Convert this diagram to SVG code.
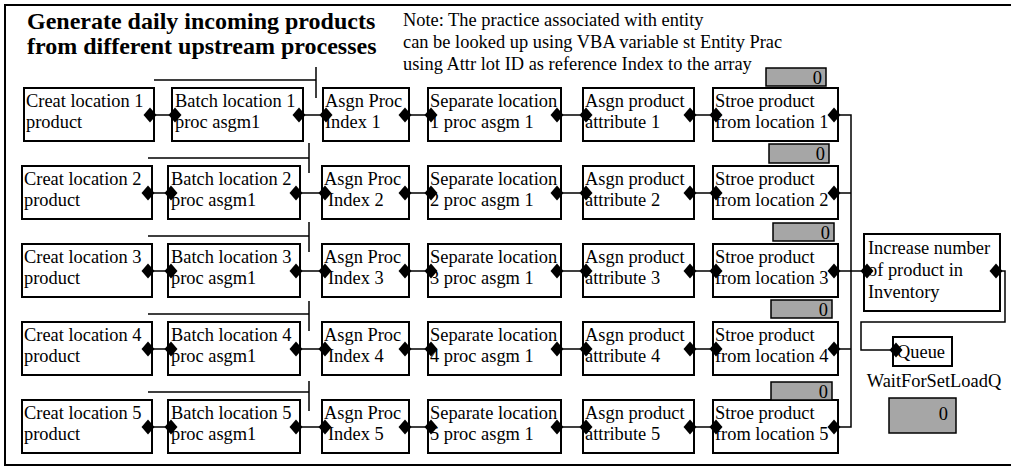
<svg xmlns="http://www.w3.org/2000/svg" width="1011" height="469" viewBox="0 0 1011 469">
<style>
text{font-family:"Liberation Serif","Times New Roman",serif;font-size:18.4px;fill:#000}
.title{font-weight:bold;font-size:24px}
.box{fill:#fff;stroke:#000;stroke-width:2}
.cnt{fill:#a6a6a6;stroke:#000;stroke-width:1.5}
.ln{fill:none;stroke:#000;stroke-width:1.5}
.num{text-anchor:end}
</style>
<defs>
<path id="dm" d="M0,-7.5 L6.5,0 L0,7.5 L-6.5,0 Z" fill="#000"/>
</defs>
<rect x="5" y="5" width="1010" height="460" fill="#fff" stroke="#000" stroke-width="2"/>
<g id="title">
<text class="title" x="27" y="29">Generate daily incoming products</text>
<text class="title" x="27" y="54">from different upstream processes</text>
</g>
<g id="note">
<text x="403" y="26">Note: The practice associated with entity</text>
<text x="403" y="48">can be looked up using VBA variable st Entity Prac</text>
<text x="403" y="70">using Attr lot ID as reference Index to the array</text>
</g>
<g id="brackets" class="ln">
<path d="M154,80 H316 M316,67 V98"/>
<path d="M148,158 H309 M309,143 V173"/>
<path d="M148,236 H309 M309,222 V252"/>
<path d="M148,314 H309 M309,301 V331"/>
<path d="M148,392 H309 M309,381 V411"/>
</g>
<g id="connectors" class="ln">
<path d="M150,115 H175 M299,115 H326 M405,115 H431 M557,115 H586 M690,115 H716"/>
<path d="M148,193 H171 M296,193 H325 M405,193 H431 M557,193 H586 M690,193 H716"/>
<path d="M148,271 H171 M296,271 H325 M405,271 H431 M557,271 H586 M690,271 H716"/>
<path d="M148,349 H171 M296,349 H325 M405,349 H431 M557,349 H586 M690,349 H716"/>
<path d="M148,427 H171 M296,427 H325 M405,427 H431 M557,427 H586 M690,427 H716"/>
<path d="M834,115 H851 V427 H834 M834,193 H851 M834,271 H867 M834,349 H851"/>
<path d="M996,271 H1005 V322 H861 V350 H896"/>
</g>
<g id="creat1"><rect class="box" x="24" y="88" width="130" height="53"/><text x="26" y="107">Creat location 1</text><text x="26" y="128">product</text></g>
<g id="batch1"><rect class="box" x="172" y="88" width="131" height="53"/><text x="175" y="107">Batch location 1</text><text x="175" y="128">proc asgm1</text></g>
<g id="asgn1"><rect class="box" x="323" y="88" width="86" height="53"/><text x="325" y="107">Asgn Proc</text><text x="325" y="128">Index 1</text></g>
<g id="sep1"><rect class="box" x="428" y="88" width="133" height="53"/><text x="430" y="107">Separate location</text><text x="430" y="128">1 proc asgm 1</text></g>
<g id="attr1"><rect class="box" x="583" y="88" width="111" height="53"/><text x="585" y="107">Asgn product</text><text x="585" y="128">attribute 1</text></g>
<g id="store1"><rect class="box" x="713" y="88" width="125" height="53"/><text x="715" y="107">Stroe product</text><text x="715" y="128">from location 1</text><rect class="cnt" x="766" y="68" width="60" height="18"/><text class="num" x="822" y="84">0</text></g>

<g id="creat2"><rect class="box" x="22" y="166" width="130" height="53"/><text x="24" y="185">Creat location 2</text><text x="24" y="206">product</text></g>
<g id="batch2"><rect class="box" x="168" y="166" width="132" height="53"/><text x="171" y="185">Batch location 2</text><text x="171" y="206">proc asgm1</text></g>
<g id="asgn2"><rect class="box" x="322" y="166" width="87" height="53"/><text x="324" y="185">Asgn Proc</text><text x="328" y="206">Index 2</text></g>
<g id="sep2"><rect class="box" x="428" y="166" width="133" height="53"/><text x="430" y="185">Separate location</text><text x="430" y="206">2 proc asgm 1</text></g>
<g id="attr2"><rect class="box" x="583" y="166" width="111" height="53"/><text x="585" y="185">Asgn product</text><text x="585" y="206">attribute 2</text></g>
<g id="store2"><rect class="box" x="713" y="166" width="125" height="53"/><text x="715" y="185">Stroe product</text><text x="715" y="206">from location 2</text><rect class="cnt" x="769" y="144" width="60" height="19"/><text class="num" x="825" y="160">0</text></g>

<g id="creat3"><rect class="box" x="22" y="244" width="130" height="53"/><text x="24" y="263">Creat location 3</text><text x="24" y="284">product</text></g>
<g id="batch3"><rect class="box" x="168" y="244" width="132" height="53"/><text x="171" y="263">Batch location 3</text><text x="171" y="284">proc asgm1</text></g>
<g id="asgn3"><rect class="box" x="322" y="244" width="87" height="53"/><text x="324" y="263">Asgn Proc</text><text x="328" y="284">Index 3</text></g>
<g id="sep3"><rect class="box" x="428" y="244" width="133" height="53"/><text x="430" y="263">Separate location</text><text x="430" y="284">3 proc asgm 1</text></g>
<g id="attr3"><rect class="box" x="583" y="244" width="111" height="53"/><text x="585" y="263">Asgn product</text><text x="585" y="284">attribute 3</text></g>
<g id="store3"><rect class="box" x="713" y="244" width="125" height="53"/><text x="715" y="263">Stroe product</text><text x="715" y="284">from location 3</text><rect class="cnt" x="773" y="223" width="61" height="18"/><text class="num" x="830" y="239">0</text></g>

<g id="creat4"><rect class="box" x="22" y="322" width="130" height="53"/><text x="24" y="341">Creat location 4</text><text x="24" y="362">product</text></g>
<g id="batch4"><rect class="box" x="168" y="322" width="132" height="53"/><text x="171" y="341">Batch location 4</text><text x="171" y="362">proc asgm1</text></g>
<g id="asgn4"><rect class="box" x="322" y="322" width="87" height="53"/><text x="324" y="341">Asgn Proc</text><text x="328" y="362">Index 4</text></g>
<g id="sep4"><rect class="box" x="428" y="322" width="133" height="53"/><text x="430" y="341">Separate location</text><text x="430" y="362">4 proc asgm 1</text></g>
<g id="attr4"><rect class="box" x="583" y="322" width="111" height="53"/><text x="585" y="341">Asgn product</text><text x="585" y="362">attribute 4</text></g>
<g id="store4"><rect class="box" x="713" y="322" width="125" height="53"/><text x="715" y="341">Stroe product</text><text x="715" y="362">from location 4</text><rect class="cnt" x="771" y="300" width="61" height="18"/><text class="num" x="828" y="316">0</text></g>

<g id="creat5"><rect class="box" x="22" y="400" width="130" height="53"/><text x="24" y="419">Creat location 5</text><text x="24" y="440">product</text></g>
<g id="batch5"><rect class="box" x="168" y="400" width="132" height="53"/><text x="171" y="419">Batch location 5</text><text x="171" y="440">proc asgm1</text></g>
<g id="asgn5"><rect class="box" x="322" y="400" width="87" height="53"/><text x="324" y="419">Asgn Proc</text><text x="328" y="440">Index 5</text></g>
<g id="sep5"><rect class="box" x="428" y="400" width="133" height="53"/><text x="430" y="419">Separate location</text><text x="430" y="440">5 proc asgm 1</text></g>
<g id="attr5"><rect class="box" x="583" y="400" width="111" height="53"/><text x="585" y="419">Asgn product</text><text x="585" y="440">attribute 5</text></g>
<g id="store5"><rect class="box" x="713" y="400" width="125" height="53"/><text x="715" y="419">Stroe product</text><text x="715" y="440">from location 5</text><rect class="cnt" x="771" y="382" width="61" height="18"/><text class="num" x="828" y="398">0</text></g>

<g id="increase"><rect class="box" x="864" y="234" width="136" height="77"/><text x="868" y="254">Increase number</text><text x="868" y="276">of product in</text><text x="868" y="298">Inventory</text></g>
<g id="queue"><rect class="box" x="893" y="337" width="59" height="29"/><text x="897" y="358">Queue</text><text x="934" y="387" text-anchor="middle">WaitForSetLoadQ</text><rect class="cnt" x="889" y="398" width="67" height="35"/><text class="num" x="948" y="420">0</text></g>
<g id="diamonds">
<use href="#dm" x="150" y="115"/><use href="#dm" x="175" y="115"/><use href="#dm" x="299" y="115"/><use href="#dm" x="326" y="115"/><use href="#dm" x="405" y="115"/><use href="#dm" x="431" y="115"/><use href="#dm" x="557" y="115"/><use href="#dm" x="586" y="115"/><use href="#dm" x="690" y="115"/><use href="#dm" x="716" y="115"/><use href="#dm" x="834" y="115"/>
<use href="#dm" x="148" y="193"/><use href="#dm" x="171" y="193"/><use href="#dm" x="296" y="193"/><use href="#dm" x="325" y="193"/><use href="#dm" x="405" y="193"/><use href="#dm" x="431" y="193"/><use href="#dm" x="557" y="193"/><use href="#dm" x="586" y="193"/><use href="#dm" x="690" y="193"/><use href="#dm" x="716" y="193"/><use href="#dm" x="834" y="193"/>
<use href="#dm" x="148" y="271"/><use href="#dm" x="171" y="271"/><use href="#dm" x="296" y="271"/><use href="#dm" x="325" y="271"/><use href="#dm" x="405" y="271"/><use href="#dm" x="431" y="271"/><use href="#dm" x="557" y="271"/><use href="#dm" x="586" y="271"/><use href="#dm" x="690" y="271"/><use href="#dm" x="716" y="271"/><use href="#dm" x="834" y="271"/>
<use href="#dm" x="148" y="349"/><use href="#dm" x="171" y="349"/><use href="#dm" x="296" y="349"/><use href="#dm" x="325" y="349"/><use href="#dm" x="405" y="349"/><use href="#dm" x="431" y="349"/><use href="#dm" x="557" y="349"/><use href="#dm" x="586" y="349"/><use href="#dm" x="690" y="349"/><use href="#dm" x="716" y="349"/><use href="#dm" x="834" y="349"/>
<use href="#dm" x="148" y="427"/><use href="#dm" x="171" y="427"/><use href="#dm" x="296" y="427"/><use href="#dm" x="325" y="427"/><use href="#dm" x="405" y="427"/><use href="#dm" x="431" y="427"/><use href="#dm" x="557" y="427"/><use href="#dm" x="586" y="427"/><use href="#dm" x="690" y="427"/><use href="#dm" x="716" y="427"/><use href="#dm" x="834" y="427"/>
<use href="#dm" x="867" y="271"/><use href="#dm" x="996" y="271"/><use href="#dm" x="896" y="350"/>
</g>
</svg>
